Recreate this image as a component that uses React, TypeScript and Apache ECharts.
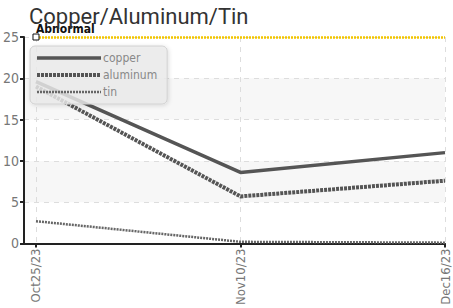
import React, { useEffect, useRef } from "react";
import * as echarts from "echarts";

const dates = ["Oct25/23", "Nov10/23", "Dec16/23"];
const copper = [19.6, 8.6, 11.0];
const aluminum = [19.0, 5.7, 7.6];
const tin = [2.7, 0.2, 0.1];
const abnormal = 25;
const yTicks = [0, 5, 10, 15, 20, 25];

const FONT = "'DejaVu Sans Condensed', 'Roboto', sans-serif";

export default function App() {
  const ref = useRef<HTMLDivElement>(null);
  useEffect(() => {
    if (!ref.current) return;
    const chart = echarts.init(ref.current, undefined, { renderer: "svg" });
    const idx = dates.map((_, i) => i);
    const toPts = (arr: number[]) => arr.map((v, i) => [i, v]);
    chart.setOption({
      animation: false,
      title: {
        text: "Copper/Aluminum/Tin",
        left: 24,
        top: 0,
        textStyle: { fontFamily: "Roboto", fontSize: 22, fontWeight: "normal", color: "#333" },
      },
      legend: {
        orient: "vertical",
        left: 30,
        top: 46,
        itemWidth: 64,
        itemHeight: 12,
        itemGap: 5,
        padding: [6, 10, 6, 5],
        backgroundColor: "rgba(236,236,236,0.82)",
        borderColor: "#d0d0d0",
        borderWidth: 1,
        borderRadius: 5,
        shadowBlur: 4,
        shadowColor: "rgba(0,0,0,0.15)",
        shadowOffsetX: 1,
        shadowOffsetY: 1,
        itemStyle: { opacity: 0 },
        lineStyle: { width: "inherit" },
        textStyle: { fontFamily: FONT, fontSize: 12, color: "#888", padding: [0, 0, 0, -3] },
        data: ["copper", "aluminum", "tin"],
      },
      grid: { left: 23, right: 8, top: 37, bottom: 60, containLabel: false },
      xAxis: {
        type: "value",
        min: -0.0585,
        max: idx.length - 1,
        axisLine: { show: true, onZero: false, lineStyle: { color: "#222", width: 2 } },
        axisTick: { show: true, customValues: idx, length: 4, lineStyle: { color: "#222", width: 2 } },
        axisLabel: {
          customValues: idx,
          rotate: 90,
          fontFamily: FONT,
          fontSize: 13,
          color: "#777",
          margin: 5,
          formatter: (v: number) => dates[Math.round(v)] ?? "",
        },
        splitLine: { show: true, lineStyle: { color: "#ddd", type: [5, 5], width: 1 } },
      },
      yAxis: {
        type: "value",
        min: yTicks[0],
        max: yTicks[yTicks.length - 1],
        interval: 5,
        axisLine: { show: true, onZero: false, lineStyle: { color: "#222", width: 2 } },
        axisTick: { show: true, length: 4, lineStyle: { color: "#222", width: 2 } },
        axisLabel: { fontFamily: FONT, fontSize: 14, color: "#777", margin: 5 },
        splitLine: { show: true, lineStyle: { color: "#ddd", type: [5, 5], width: 1 } },
        splitArea: { show: true, areaStyle: { color: ["rgba(255,255,255,0)", "#f7f7f7"] } },
      },
      series: [
        {
          name: "copper",
          type: "line",
          data: toPts(copper),
          showSymbol: false,
          symbol: "none",
          color: "#555",
          lineStyle: { color: "#555", width: 3.5 },
          markLine: {
            silent: true,
            symbol: ["none", "none"],
            lineStyle: { color: "#f2c500", width: 2.5, type: [2, 1] },
            label: {
              show: true,
              position: "insideStartTop",
              formatter: "Abnormal",
              color: "#111",
              fontFamily: FONT,
              fontSize: 12,
              fontWeight: "bold",
              distance: [0, 2],
            },
            data: [[{ coord: [0, abnormal] }, { coord: [idx.length - 1, abnormal] }]],
          },
          markPoint: {
            silent: true,
            symbol: "rect",
            symbolSize: 6,
            itemStyle: { color: "#fff", borderColor: "#111", borderWidth: 1 },
            label: { show: false },
            data: [{ coord: [0, abnormal] }],
          },
        },
        {
          name: "aluminum",
          type: "line",
          data: toPts(aluminum),
          showSymbol: false,
          symbol: "none",
          color: "#555",
          lineStyle: { color: "#555", width: 4, type: [3, 1] },
        },
        {
          name: "tin",
          type: "line",
          data: toPts(tin),
          showSymbol: false,
          symbol: "none",
          color: "#666",
          lineStyle: { color: "#666", width: 2.5, type: [2, 1] },
        },
      ],
    });
    return () => chart.dispose();
  }, []);
  return <div ref={ref} style={{ width: 453, height: 308, position: "absolute", left: 0, top: 0 }} />;
}
